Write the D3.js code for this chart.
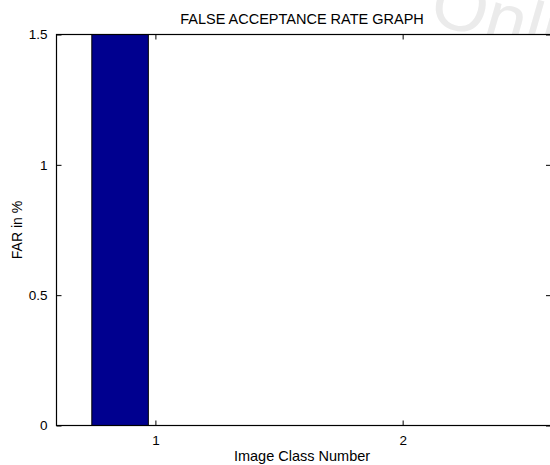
<!DOCTYPE html>
<html><head><meta charset="utf-8">
<script src="https://cdn.jsdelivr.net/npm/d3@7"></script>
<style>body{margin:0;background:#fff;}svg{display:block;}text{font-family:"Liberation Sans",Arial,Helvetica,sans-serif;}</style>
</head><body>
<svg id="c" width="550" height="465"></svg>
<script>
const categories = [1, 2];
const series1 = [1.9, 0];
const series2 = [0, 0];
const xTicks = [1, 2];
const yTicks = [0, 0.5, 1, 1.5];
const yTickLabels = ["0", "0.5", "1", "1.5"];
const titleText = "FALSE ACCEPTANCE RATE GRAPH";
const xLabelText = "Image Class Number";
const yLabelText = "FAR in %";
const watermarkText = "Online";

const svg = d3.select("#c");
const L = 56.5, R = 551, T = 34.5, B = 425.5;
const x = d3.scaleLinear().domain([0.6, 2.6]).range([L, R]);
const y = d3.scaleLinear().domain([0, 1.5]).range([B, T]);

// watermark behind axes
svg.append("text").attr("x", 427).attr("y", 22)
  .attr("transform", "rotate(16,427,22)")
  .attr("font-size", 72).attr("fill", "#ebebeb").text(watermarkText);

svg.append("rect").attr("x", L).attr("y", T).attr("width", R - L).attr("height", B - T).attr("fill", "#fff");

svg.append("defs").append("clipPath").attr("id", "clip")
  .append("rect").attr("x", L).attr("y", T).attr("width", R - L).attr("height", B - T);

// grouped bars (2 series)
const nS = 2;
const groupW = Math.min(0.8, nS / (nS + 1.5));
const barW = groupW / nS * 0.8;
const offsets = [-groupW / 4, groupW / 4];
const colors = ["#00008f", "#800000"];
const g = svg.append("g").attr("clip-path", "url(#clip)");
[series1, series2].forEach((s, si) => {
  g.selectAll(null).data(categories.map((c, i) => ({c, v: s[i]}))).enter()
    .filter(d => d.v > 0)
    .append("rect")
    .attr("x", d => x(d.c + offsets[si] - barW / 2))
    .attr("width", d => x(d.c + offsets[si] + barW / 2) - x(d.c + offsets[si] - barW / 2))
    .attr("y", d => y(d.v))
    .attr("height", d => y(0) - y(d.v))
    .attr("fill", colors[si]).attr("stroke", "#000").attr("stroke-width", 1);
});

// axes
const axB = d3.axisBottom(x).tickValues(xTicks).tickSize(-5).tickPadding(10).tickFormat(d3.format("d"));
const axT = d3.axisTop(x).tickValues(xTicks).tickSize(-5).tickFormat("");
const axLf = d3.axisLeft(y).tickValues(yTicks).tickSize(-5).tickPadding(9).tickFormat((d, i) => yTickLabels[i]);
const axRt = d3.axisRight(y).tickValues(yTicks).tickSize(-5).tickFormat("");
function style(sel) {
  sel.selectAll("path").attr("stroke", "#000").attr("stroke-width", 1);
  sel.selectAll("line").attr("stroke", "#000").attr("stroke-width", 1);
  sel.selectAll("text").attr("font-size", 13.5).attr("fill", "#000").attr("font-family", '"Liberation Sans",Arial,sans-serif');
  sel.select(".domain").attr("d", null);
}
svg.append("g").attr("transform", `translate(0,${B})`).call(axB).call(style);
svg.append("g").attr("transform", `translate(0,${T})`).call(axT).call(style);
svg.append("g").attr("transform", `translate(${L},0)`).call(axLf).call(style);
svg.append("g").attr("transform", `translate(${R},0)`).call(axRt).call(style);
svg.append("rect").attr("x", L).attr("y", T).attr("width", R - L).attr("height", B - T)
  .attr("fill", "none").attr("stroke", "#000").attr("stroke-width", 1.2);

svg.append("text").attr("x", 302).attr("y", 24).attr("text-anchor", "middle")
  .attr("font-size", 14.5).text(titleText);
svg.append("text").attr("x", 302).attr("y", 461).attr("text-anchor", "middle")
  .attr("font-size", 14.5).text(xLabelText);
svg.append("text").attr("transform", `translate(22,${(T + B) / 2}) rotate(-90)`).attr("text-anchor", "middle")
  .attr("font-size", 14).text(yLabelText);
</script>
</body></html>
